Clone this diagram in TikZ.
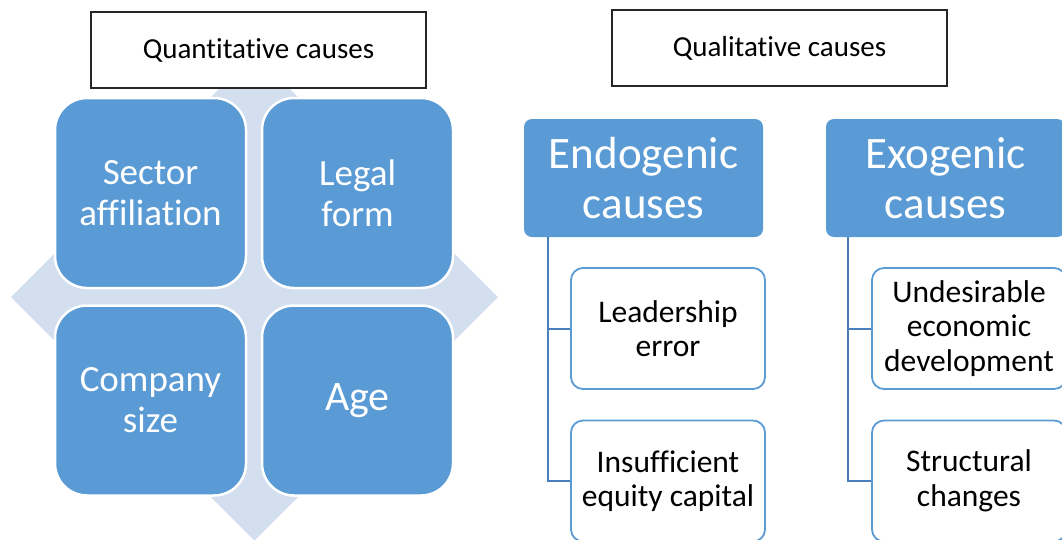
\documentclass[tikz,border=0pt]{standalone}
\usepackage{fontspec}
\setmainfont{Carlito}[Ligatures=NoCommon]
\usepackage{tikz}

\definecolor{tileblue}{HTML}{5B9BD5}
\definecolor{paleblue}{HTML}{D3DEEF}
\definecolor{stemblue}{HTML}{4A7EBB}

\begin{document}
\begin{tikzpicture}[x=1pt,y=-1pt,
  title/.style={draw=black!85,line width=1.2pt,fill=white,minimum width=335pt,minimum height=76pt,font=\fontsize{29}{33}\selectfont},
  tile/.style={fill=tileblue,draw=white,line width=2.5pt,rounded corners=32pt,minimum width=191pt,minimum height=190pt,text=white,align=center,font=\fontsize{37}{41}\selectfont},
  head/.style={fill=tileblue,rounded corners=8pt,minimum width=239pt,minimum height=118pt,text=white,align=center,font=\fontsize{45}{50}\selectfont},
  leaf/.style={draw=tileblue,line width=1.8pt,fill=white,rounded corners=12pt,minimum width=194pt,minimum height=121pt,align=center,font=\fontsize{31.5}{34.5}\selectfont},
  stem/.style={draw=stemblue,line width=2pt}]
\useasboundingbox (0,0) rectangle (1062,539);

% corners of the diamond behind the grid
\coordinate (dl) at (11,297);
\coordinate (dt) at (254.5,53.5);
\coordinate (dr) at (498,297);
\coordinate (db) at (254.5,540.5);
\fill[paleblue] (dl)--(dt)--(dr)--(db)--cycle;

\node[title] (quant) at (258.5,50) {Quantitative causes};
\node[title] (qual) at (779.5,48) {Qualitative causes};

% the four tiles
\node[tile] (sector) at (150.5,193) {Sector\\affiliation};
\node[tile] (legal) at (357.5,193) {Legal\\form};
\node[tile] (size) at (150.5,400.5) {Company\\size};
\node[tile,font=\fontsize{42}{46}\selectfont] (age) at (357.5,400.5) {Age};

% the two trees
\node[head] (endo) at (643.5,178) {Endogenic\\causes};
\node[head] (exo) at (945.5,178) {Exogenic\\causes};

\node[leaf] (lead) at (668,328.5) {Leadership\\error};
\node[leaf] (equity) at (668,481) {Insufficient\\equity capital};
\node[leaf] (undes) at (969,328.5) {Undesirable\\economic\\development};
\node[leaf] (struct) at (969,481) {Structural\\changes};

\draw[stem] ([xshift=24pt]endo.south west) |- (lead.west);
\draw[stem] ([xshift=24pt]endo.south west) |- (equity.west);
\draw[stem] ([xshift=22pt]exo.south west) |- (undes.west);
\draw[stem] ([xshift=22pt]exo.south west) |- (struct.west);
\end{tikzpicture}
\end{document}
